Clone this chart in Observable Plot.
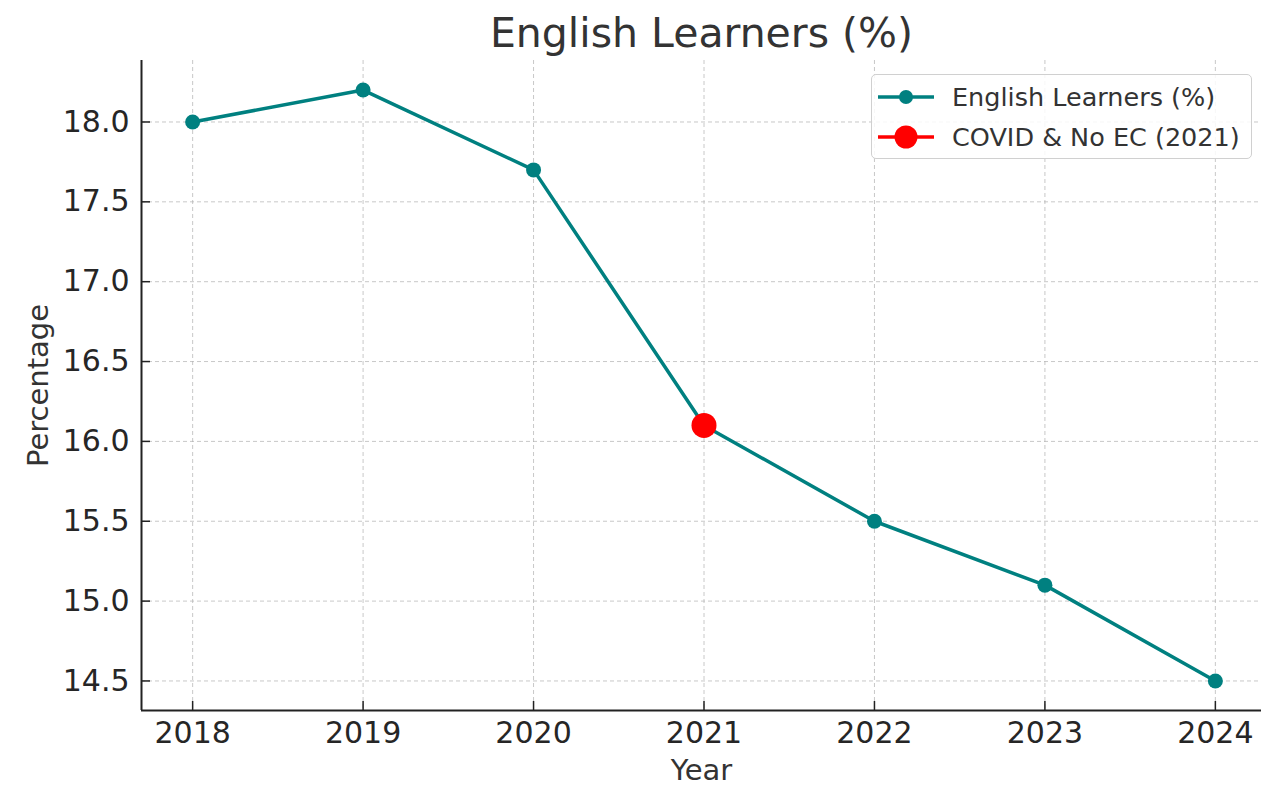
<!DOCTYPE html>
<html>
<head>
<meta charset="utf-8">
<script src="https://cdn.jsdelivr.net/npm/d3@7"></script>
<script src="https://cdn.jsdelivr.net/npm/@observablehq/plot@0.6"></script>
<style>
  html, body { margin: 0; padding: 0; background: #fff; }
  #wrap { position: relative; width: 1261px; height: 787px; font-family: "DejaVu Sans", sans-serif; }
  #legend { position: absolute; left: 871px; top: 74px; width: 381px; height: 85px; box-sizing: border-box;
    border: 1.2px solid #d0d0d0; border-radius: 5px; background: rgba(255,255,255,0.85); }
  .row { position: absolute; left: 6px; height: 30px; display: flex; align-items: center; }
  .row span { font-size: 25.5px; color: #333; margin-left: 18px; white-space: nowrap; }
</style>
</head>
<body>
<div id="wrap"></div>
<script>
const years = [2018, 2019, 2020, 2021, 2022, 2023, 2024];
const englishLearners = [18.0, 18.2, 17.7, 16.1, 15.5, 15.1, 14.5];
const highlightYear = [2021];
const highlightValue = [16.1];
const yTicks = [14.5, 15.0, 15.5, 16.0, 16.5, 17.0, 17.5, 18.0];
const xDomain = [2017.7, 2024.3];
const yDomain = [14.315, 18.385];
const titleText = "English Learners (%)";
const xLabel = "Year";
const yLabel = "Percentage";
const seriesName = "English Learners (%)";
const highlightName = "COVID & No EC (2021)";

const teal = "#008080";
const red = "#ff0000";

const W = 1261, H = 787, mL = 141, mT = 60, mB = 77, mR = 0;
const frameW = W - mL - mR, frameH = H - mT - mB;

const data = years.map((y, i) => ({year: y, value: englishLearners[i]}));
const hl = highlightYear.map((y, i) => ({year: y, value: highlightValue[i]}));

const chart = Plot.plot({
  width: W,
  height: H,
  marginLeft: mL,
  marginTop: mT,
  marginBottom: mB,
  marginRight: mR,
  style: {fontFamily: "DejaVu Sans, sans-serif", color: "#262626", background: "#fff"},
  x: {domain: xDomain, range: [mL, 1266]},
  y: {domain: yDomain},
  marks: [
    Plot.gridX(years, {stroke: "#b0b0b0", strokeOpacity: 0.7, strokeWidth: 1, strokeDasharray: "4,3"}),
    Plot.gridY(yTicks, {stroke: "#b0b0b0", strokeOpacity: 0.7, strokeWidth: 1, strokeDasharray: "4,3"}),
    Plot.axisX({ticks: years, tickFormat: d => String(d), tickSize: 0, tickPadding: 11, fontSize: 30, label: null}),
    Plot.axisY({ticks: yTicks, tickFormat: d => d.toFixed(1), tickSize: 0, tickPadding: 12, fontSize: 30, label: null}),
    // inward tick marks
    Plot.tickX(years, {x: d => d, insetTop: frameH - 9, stroke: "#222", strokeWidth: 1.5}),
    Plot.tickY(yTicks, {y: d => d, insetRight: frameW - 9, stroke: "#222", strokeWidth: 1.5}),
    // spines (left & bottom)
    Plot.ruleX([xDomain[0]], {stroke: "#222", strokeWidth: 2}),
    Plot.ruleY([yDomain[0]], {stroke: "#222", strokeWidth: 2}),
    Plot.line(data, {x: "year", y: "value", stroke: teal, strokeWidth: 3.5}),
    Plot.dot(data, {x: "year", y: "value", r: 7.5, fill: teal, stroke: null}),
    Plot.dot(hl, {x: "year", y: "value", r: 12.5, fill: red, stroke: null}),
    Plot.text([titleText], {frameAnchor: "top", dy: -27, fontSize: 41, fill: "#333", lineAnchor: "middle"}),
    Plot.text([xLabel], {frameAnchor: "bottom", dy: 60, fontSize: 29, fill: "#333", lineAnchor: "middle"}),
    Plot.text([yLabel], {frameAnchor: "left", dx: -103, rotate: -90, fontSize: 29, fill: "#333",
      textAnchor: "middle", lineAnchor: "middle"})
  ]
});

const wrap = document.getElementById("wrap");
wrap.appendChild(chart);

const legend = document.createElement("div");
legend.id = "legend";
const entries = [
  {name: seriesName, color: teal, r: 7, top: 7},
  {name: highlightName, color: red, r: 11.5, top: 47}
];
for (const e of entries) {
  const row = document.createElement("div");
  row.className = "row";
  row.style.top = e.top + "px";
  const sw = d3.create("svg").attr("width", 56).attr("height", 30);
  sw.append("line").attr("x1", 0).attr("x2", 56).attr("y1", 15).attr("y2", 15)
    .attr("stroke", e.color).attr("stroke-width", 3.5);
  sw.append("circle").attr("cx", 28).attr("cy", 15).attr("r", e.r).attr("fill", e.color);
  row.appendChild(sw.node());
  const label = document.createElement("span");
  label.textContent = e.name;
  row.appendChild(label);
  legend.appendChild(row);
}
wrap.appendChild(legend);
</script>
</body>
</html>
